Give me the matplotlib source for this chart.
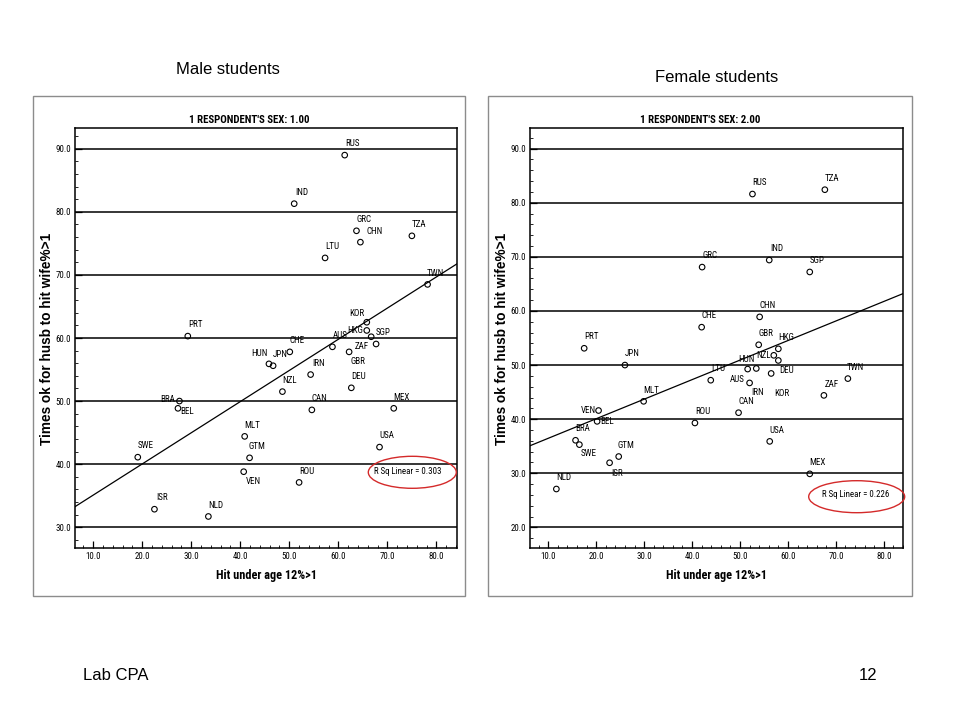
import numpy as np
import matplotlib
matplotlib.use('Agg')
import matplotlib.pyplot as plt
from matplotlib.patches import Ellipse, Rectangle
from matplotlib.ticker import MultipleLocator, FormatStrFormatter

# ---------------- data ----------------
male_countries = ["RUS", "IND", "GRC", "CHN", "TZA", "LTU", "TWN", "KOR", "PRT", "AUS",
                  "HKG", "ZAF", "SGP", "GBR", "CHE", "HUN", "JPN", "IRN", "NZL", "DEU",
                  "CAN", "MEX", "BRA", "BEL", "MLT", "GTM", "USA", "SWE", "VEN", "ROU",
                  "ISR", "NLD"]
male_x = [61.3, 51.0, 63.7, 64.5, 75.0, 57.3, 78.2, 65.8, 29.3, 58.8,
          65.8, 66.7, 67.7, 62.2, 50.1, 45.85, 46.7, 54.35, 48.6, 62.65,
          54.6, 71.3, 27.6, 27.3, 40.9, 41.9, 68.4, 19.1, 40.7, 52.0,
          22.5, 33.5]
male_y = [89.0, 81.3, 77.0, 75.2, 76.2, 72.7, 68.5, 62.5, 60.3, 58.6,
          61.2, 60.2, 59.05, 57.8, 57.8, 55.9, 55.6, 54.2, 51.5, 52.1,
          48.6, 48.85, 50.0, 48.85, 44.4, 41.0, 42.7, 41.1, 38.8, 37.1,
          32.85, 31.7]

female_countries = ["RUS", "TZA", "GRC", "IND", "SGP", "CHN", "CHE", "PRT", "GBR", "HKG",
                    "NZL", "DEU", "HUN", "IRN", "KOR", "LTU", "AUS", "JPN", "TWN", "ZAF",
                    "MLT", "CAN", "ROU", "VEN", "BEL", "BRA", "SWE", "GTM", "ISR", "USA",
                    "MEX", "NLD"]
female_x = [52.6, 67.7, 42.1, 56.1, 64.55, 54.1, 42.0, 17.5, 53.9, 58.0,
            57.05, 58.0, 51.6, 53.4, 56.5, 43.9, 52.0, 26.0, 72.5, 67.5,
            29.9, 49.7, 40.6, 20.5, 20.2, 15.7, 16.5, 24.7, 22.8, 56.2,
            64.55, 11.7]
female_y = [81.6, 82.4, 68.1, 69.4, 67.2, 58.9, 57.0, 53.1, 53.75, 53.0,
            51.8, 50.85, 49.26, 49.37, 48.45, 47.2, 46.7, 50.0, 47.5, 44.4,
            43.3, 41.2, 39.3, 41.6, 39.6, 36.1, 35.3, 33.1, 31.95, 35.9,
            29.9, 27.1]

male_title = "1 RESPONDENT'S SEX: 1.00"
female_title = "1 RESPONDENT'S SEX: 2.00"
male_r2 = "R Sq Linear = 0.303"
female_r2 = "R Sq Linear = 0.226"
x_label = "Hit under age 12%>1"
y_label = "Times ok for husb to hit wife%>1"
x_ticks = [10, 20, 30, 40, 50, 60, 70, 80]
male_y_ticks = [30, 40, 50, 60, 70, 80, 90]
female_y_ticks = [20, 30, 40, 50, 60, 70, 80, 90]

# ---------------- style / layout ----------------
W, H = 960, 720
NARROW = ['Roboto Condensed', 'Archivo Narrow', 'Liberation Sans', 'DejaVu Sans']
ARIAL = ['Liberation Sans', 'DejaVu Sans']

DEFAULT_OFF = (7.5, 11.3)
male_off = {"KOR": (-10, 8.5), "HKG": (-11.7, 0), "GBR": (9, -10), "ZAF": (-9.3, -10),
            "HUN": (-9.7, 10), "BRA": (-12, 2), "BEL": (9.3, -2.7), "VEN": (9.7, -10),
            "CHN": (14, 11)}
female_off = {"NZL": (-10.7, 0), "HUN": (-1, 10), "AUS": (-12.3, 3.3), "IRN": (1.3, -24.3),
              "KOR": (10.4, -20.3), "DEU": (8.3, -10), "VEN": (-9.7, 0), "BEL": (9.7, 0),
              "SWE": (9.7, -9.3), "ISR": (7.3, -10.3)}


def fx(px):
    return px / W


def fy(py):
    return 1 - py / H


fig = plt.figure(figsize=(W / 100, H / 100), dpi=100)
fig.patch.set_facecolor('white')


def panel(frame, axbox, xs, ys, names, offs, title, yticks, xlim, ylim, r2, r2pos, ell, ylab_dx):
    fl, ft, fr, fb = frame
    fig.add_artist(Rectangle((fx(fl), fy(fb)), (fr - fl) / W, (fb - ft) / H,
                             transform=fig.transFigure, fill=False, ec='#8c8c8c', lw=1.0))
    l, t, r, b = axbox
    ax = fig.add_axes([fx(l), fy(b), (r - l) / W, (b - t) / H])
    ax.set_xlim(*xlim)
    ax.set_ylim(*ylim)
    for yv in yticks:
        ax.axhline(yv, color='black', lw=1.1, zorder=1)
    ax.scatter(xs, ys, s=16, facecolors='none', edgecolors='black', linewidths=0.8, zorder=3)
    for n, x, y in zip(names, xs, ys):
        dx, dy = offs.get(n, DEFAULT_OFF)
        ax.annotate(n, (x, y), xytext=(dx, dy), textcoords='offset pixels',
                    ha='center', va='center', fontsize=6.5, family=NARROW, zorder=4)
    k, c = np.polyfit(xs, ys, 1)
    xx = np.array(xlim)
    ax.plot(xx, k * xx + c, color='black', lw=0.9, zorder=2)
    ax.set_xticks(x_ticks)
    ax.set_yticks(yticks)
    ax.xaxis.set_minor_locator(MultipleLocator(2))
    ax.yaxis.set_minor_locator(MultipleLocator(2))
    ax.xaxis.set_major_formatter(FormatStrFormatter('%.1f'))
    ax.yaxis.set_major_formatter(FormatStrFormatter('%.1f'))
    ax.tick_params(which='major', direction='in', length=5, width=0.9, labelsize=6.4, pad=3)
    ax.tick_params(which='minor', direction='in', length=2, width=0.6)
    for lab in ax.get_xticklabels() + ax.get_yticklabels():
        lab.set_family(NARROW)
    for sp in ax.spines.values():
        sp.set_linewidth(1.1)
    ax.set_xlabel(x_label, fontsize=8.8, fontweight='bold', family=NARROW, labelpad=6)
    fig.text(fx(l - ylab_dx), fy((t + b) / 2 + 1), y_label, rotation=90, ha='center',
             va='center', fontsize=9.8, fontweight='bold', family=ARIAL)
    fig.text(fx((fl + fr) / 2), fy(120), title, ha='center', va='center',
             fontsize=7.8, fontweight='bold', family=NARROW)
    fig.text(fx(r2pos[0]), fy(r2pos[1]), r2, ha='center', va='center',
             fontsize=6.4, family=NARROW)
    ex, ey, ew, eh = ell
    fig.add_artist(Ellipse((fx(ex), fy(ey)), ew / W, eh / H, transform=fig.transFigure,
                           fill=False, ec='#d42a2a', lw=1.0))
    return ax


panel((33, 96, 465, 596), (75, 128, 457, 548), male_x, male_y, male_countries, male_off,
      male_title, male_y_ticks, (6.3, 84.2), (26.7, 93.3), male_r2, (407.7, 471),
      (412.3, 472.3, 88, 32), 28)
panel((488, 96, 912, 596), (530, 128, 903, 548), female_x, female_y, female_countries,
      female_off, female_title, female_y_ticks, (6.2, 84.0), (16.2, 93.8), female_r2,
      (856, 494.3), (856.7, 496.7, 96, 32), 28)

fig.text(fx(228), fy(70), "Male students", ha='center', va='center', fontsize=12, family=ARIAL)
fig.text(fx(717), fy(77), "Female students", ha='center', va='center', fontsize=12, family=ARIAL)
fig.text(fx(83), fy(676), "Lab CPA", ha='left', va='center', fontsize=12, family=ARIAL)
fig.text(fx(868), fy(676), "12", ha='center', va='center', fontsize=12, family=ARIAL)

fig.savefig('out.png', dpi=100, facecolor='white')
